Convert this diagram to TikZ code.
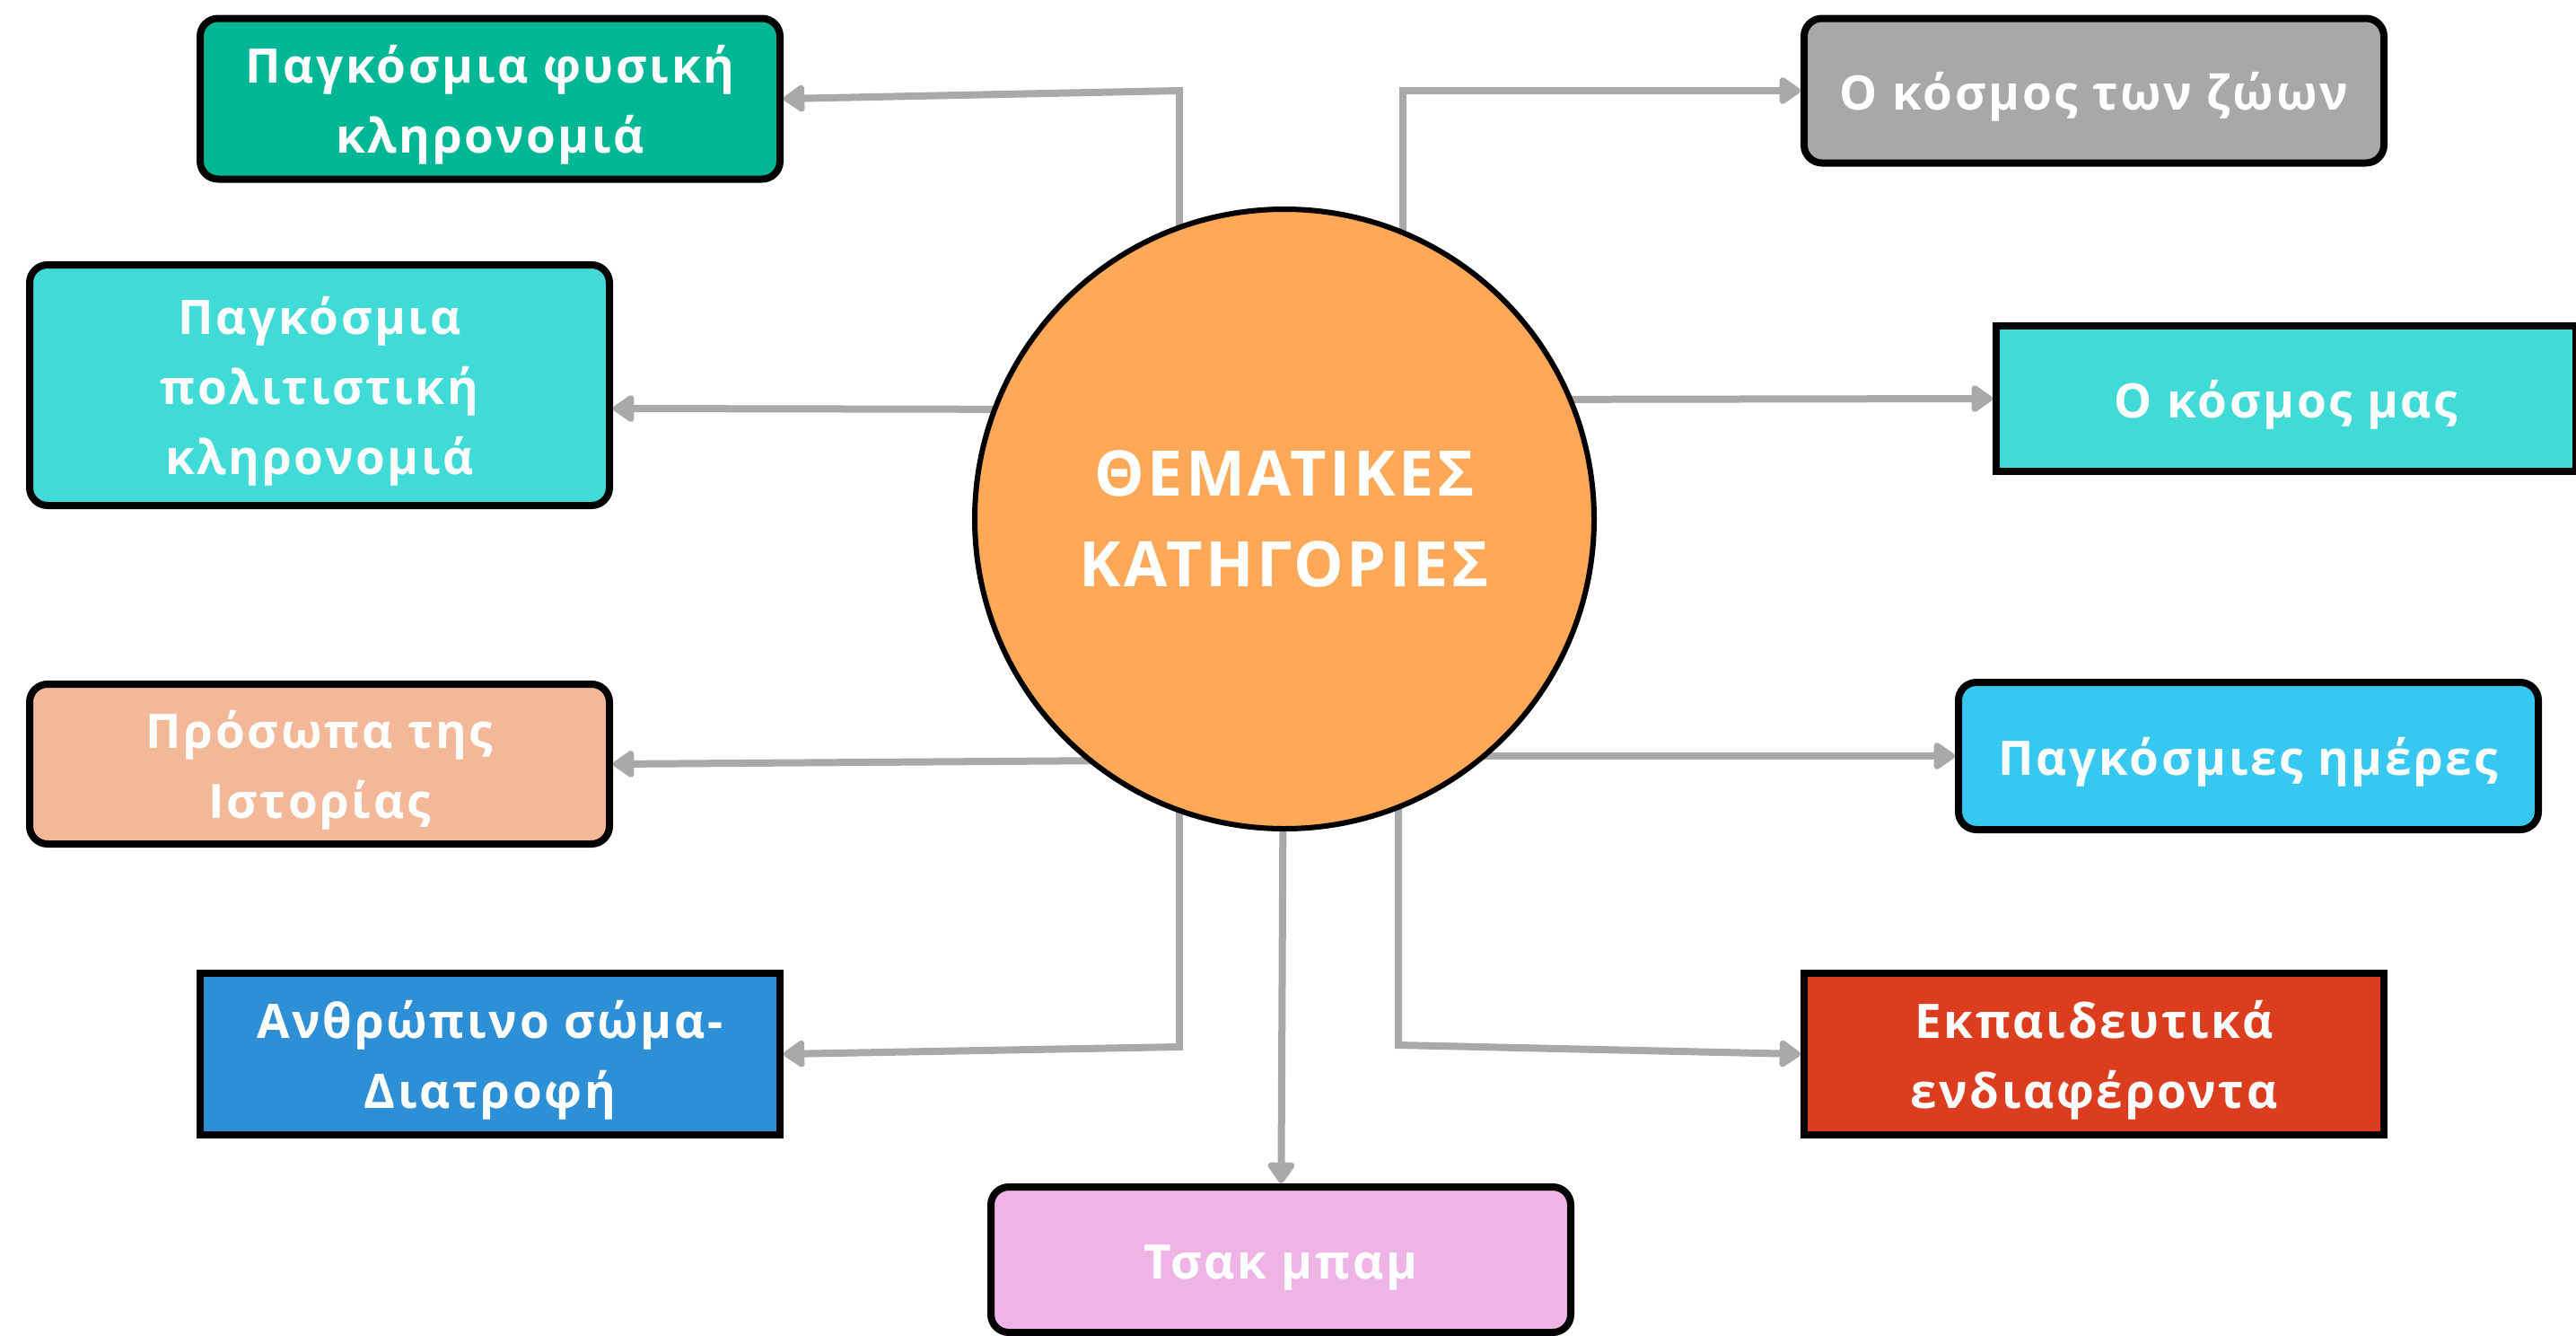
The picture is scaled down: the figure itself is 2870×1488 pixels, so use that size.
\documentclass[tikz,border=0pt]{standalone}
\usepackage{fontspec}
\newfontfamily\catfont{Open Sans}[LetterSpace=5]
\usepackage{tikz}
\usetikzlibrary{positioning,arrows.meta,backgrounds}

\definecolor{natgreen}{HTML}{00B795}
\definecolor{turq}{HTML}{40DBD6}
\definecolor{peach}{HTML}{F2B897}
\definecolor{bodyblue}{HTML}{2D8FD6}
\definecolor{pinkish}{HTML}{EEB4E6}
\definecolor{zoogray}{HTML}{A8A8A8}
\definecolor{skyblue}{HTML}{36C8F0}
\definecolor{eduRed}{HTML}{DC3D1E}
\definecolor{circorange}{HTML}{FFA857}
\definecolor{linegray}{HTML}{A9A9A9}

% strut that pushes the box text down a little
\newcommand{\catstrut}{\rule{0pt}{28pt}}

\begin{document}
\begin{tikzpicture}[x=0.5pt,y=-0.5pt,
  catbox/.style={draw=black,line width=4pt,rounded corners=10pt,text=white,
    minimum width=323pt,inner sep=0pt,align=center,
    font=\catfont\bfseries\fontsize{26.5pt}{39pt}\selectfont},
  sharpbox/.style={catbox,sharp corners},
  conn/.style={draw=linegray,line width=4pt,-{Triangle[length=13pt,width=17pt,round]}}]
\useasboundingbox (0,0) rectangle (2870,1488);

% left side
\node[catbox,fill=natgreen,minimum height=89.5pt] (nat) at (546,110) {\catstrut Παγκόσμια φυσική\\κληρονομιά};
\node[catbox,fill=turq,minimum height=134pt] (cul) at (356,429) {\catstrut Παγκόσμια\\πολιτιστική\\κληρονομιά};
\node[catbox,fill=peach,minimum height=89pt] (hist) at (356,851) {\catstrut Πρόσωπα της\\Ιστορίας};
\node[sharpbox,fill=bodyblue,minimum height=90pt] (body) at (546,1174) {\catstrut Ανθρώπινο σώμα-\\Διατροφή};
% bottom
\node[catbox,fill=pinkish,minimum height=81pt] (tsak) at (1427,1403) {\catstrut Τσακ μπαμ};
% right side
\node[catbox,fill=zoogray,minimum height=80.5pt] (zoo) at (2333,101) {\catstrut Ο κόσμος των ζώων};
\node[sharpbox,fill=turq,minimum height=81pt] (world) at (2547,444) {\catstrut Ο κόσμος μας};
\node[catbox,fill=skyblue,minimum height=82pt] (days) at (2505,842) {\catstrut Παγκόσμιες ημέρες};
\node[sharpbox,fill=eduRed,minimum height=90pt] (edu) at (2333,1174) {\catstrut Εκπαιδευτικά\\ενδιαφέροντα};

% centre
\node[circle,draw=black,line width=3pt,fill=circorange,minimum size=345pt,text=white,
  align=center,font=\catfont\bfseries\fontsize{35pt}{50.5pt}\selectfont] (theme) at (1431,578)
  {ΘΕΜΑΤΙΚΕΣ\\ΚΑΤΗΓΟΡΙΕΣ};

\coordinate (natbend) at (1314,101);
\coordinate (culstart) at (1200,456);
\coordinate (histstart) at (1250,847);
\coordinate (bodybend) at (1314,1166);
\coordinate (zoobend) at (1563,101);
\coordinate (worldstart) at (1650,445);
\coordinate (daysstart) at (1600,842);
\coordinate (edubend) at (1558,1164);

\begin{scope}[on background layer]
\fill[white] (0,0) rectangle (2870,1488);
\draw[conn] (theme.center -| natbend) -- (natbend) -- (nat.east);
\draw[conn] (culstart) -- ([yshift=-13pt]cul.east);
\draw[conn] (histstart) -- (hist.east);
\draw[conn] (theme.center -| bodybend) -- (bodybend) -- (body.east);
\draw[conn] (theme) -- (tsak);
\draw[conn] (theme.center -| zoobend) -- (zoobend) -- (zoo.west);
\draw[conn] (worldstart) -- (world.west);
\draw[conn] (daysstart) -- (days.west);
\draw[conn] (theme.center -| edubend) -- (edubend) -- (edu.west);
\end{scope}
\end{tikzpicture}
\end{document}
